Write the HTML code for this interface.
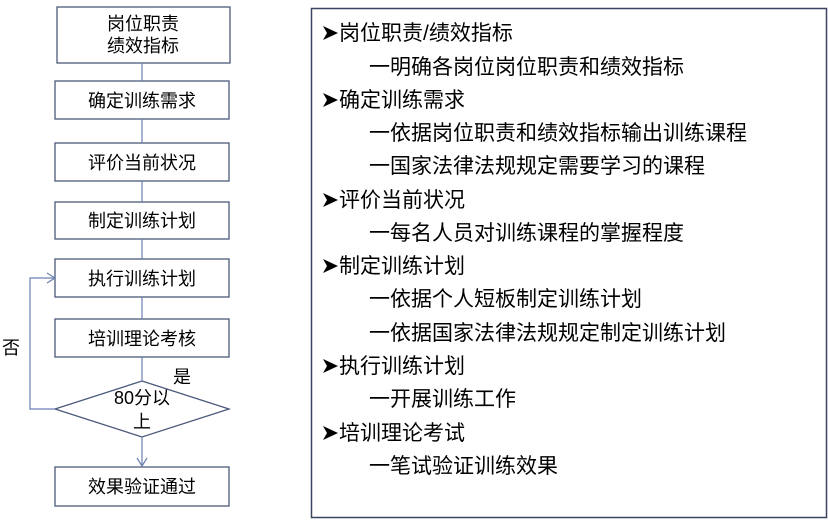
<!DOCTYPE html>
<html><head><meta charset="utf-8"><style>
html,body{margin:0;padding:0;background:#fff;}
svg{display:block;}
text{font-family:"Liberation Sans","Noto Sans CJK SC",sans-serif;fill:#000;}
</style></head><body>
<svg width="828" height="521" viewBox="0 0 828 521" xmlns="http://www.w3.org/2000/svg">
<defs><path id="b" d="M0,-7 L15,0 L0,7 L4,0 Z" fill="#000"/></defs>
<g stroke="#4a5a7a" stroke-width="1.3" fill="#fff">
<rect x="57" y="7" width="173" height="56"/>
<rect x="55" y="81" width="174" height="38"/>
<rect x="55" y="143" width="174" height="38"/>
<rect x="55" y="202" width="174" height="37"/>
<rect x="55" y="259" width="174" height="38"/>
<rect x="55" y="319" width="174" height="38"/>
<rect x="55" y="467" width="174" height="39"/>
<polygon points="142,381 229,409 142,437 55,409"/>
</g>
<g stroke="#6a7fb0" stroke-width="1.2" fill="none">
<line x1="142" y1="63" x2="142" y2="81"/>
<line x1="142" y1="119" x2="142" y2="143"/>
<line x1="142" y1="181" x2="142" y2="202"/>
<line x1="142" y1="239" x2="142" y2="259"/>
<line x1="142" y1="297" x2="142" y2="319"/>
<line x1="142" y1="357" x2="142" y2="381"/>
<line x1="142" y1="437" x2="142" y2="466"/>
<polyline points="137,458 142,466 147,458"/>
<polyline points="55,409 30,409 30,278 55,278"/>
<polyline points="47,273 55,278 47,283"/>
</g>
<g font-size="18" text-anchor="middle">
<text x="143" y="30">岗位职责</text>
<text x="143" y="52">绩效指标</text>
<text x="142" y="107">确定训练需求</text>
<text x="142" y="169">评价当前状况</text>
<text x="142" y="227">制定训练计划</text>
<text x="142" y="285">执行训练计划</text>
<text x="142" y="345">培训理论考核</text>
<text x="142" y="493">效果验证通过</text>
<text x="142" y="404">80分以</text>
<text x="142" y="428">上</text>
<text x="182" y="383">是</text>
<text x="11" y="354">否</text>
</g>
<rect x="311.5" y="8.5" width="515" height="509" fill="none" stroke="#3a4560" stroke-width="1.5"/>
<use href="#b" x="323" y="33"/><use href="#b" x="323" y="100"/><use href="#b" x="323" y="200"/><use href="#b" x="323" y="266"/><use href="#b" x="323" y="366"/><use href="#b" x="323" y="433"/>
<g font-size="21">
<text x="339" y="40">岗位职责/绩效指标</text>
<text x="369" y="74">一明确各岗位岗位职责和绩效指标</text>
<text x="339" y="107">确定训练需求</text>
<text x="369" y="140">一依据岗位职责和绩效指标输出训练课程</text>
<text x="369" y="173">一国家法律法规规定需要学习的课程</text>
<text x="339" y="207">评价当前状况</text>
<text x="369" y="240">一每名人员对训练课程的掌握程度</text>
<text x="339" y="273">制定训练计划</text>
<text x="369" y="306">一依据个人短板制定训练计划</text>
<text x="369" y="340">一依据国家法律法规规定制定训练计划</text>
<text x="339" y="373">执行训练计划</text>
<text x="369" y="406">一开展训练工作</text>
<text x="339" y="440">培训理论考试</text>
<text x="369" y="473">一笔试验证训练效果</text>
</g>
</svg>
</body></html>
